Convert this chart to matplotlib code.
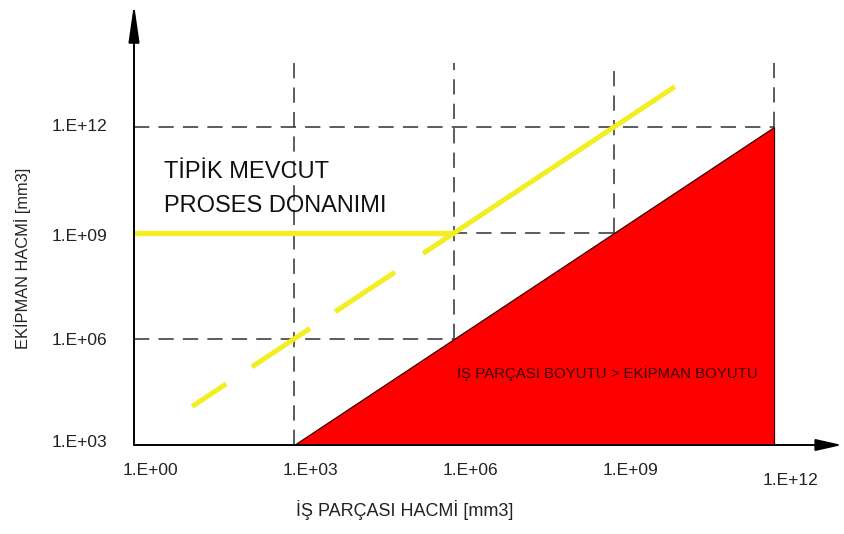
import numpy as np
import matplotlib
matplotlib.use("Agg")
import matplotlib.pyplot as plt
import matplotlib.transforms as mtransforms
from matplotlib.ticker import NullLocator

plt.rcParams['font.family'] = ['Liberation Sans', 'DejaVu Sans']

# decade exponents of the two axes
x_ticks = [0, 3, 6, 9, 12]
y_ticks = [3, 6, 9, 12]
x_tick_labels = ["1.E+00", "1.E+03", "1.E+06", "1.E+09", "1.E+12"]
y_tick_labels = ["1.E+03", "1.E+06", "1.E+09", "1.E+12"]

# workpiece > equipment region (log10 mm3)
region_x = [3, 12, 12]
region_y = [3, 3, 12]

# typical process equipment: flat at 1E+09 up to 1E+06, then equipment = 1000 x workpiece
flat_x = [0, 6]
flat_y = [9, 9]
diag_offset = 3
diag_dash_start = [1.09, 2.21, 3.77]
diag_dash_end = [1.73, 3.30, 4.89]
diag_solid = [5.42, 10.14]

# dashed reference lines: (x0, x1, y) horizontal and (x, y0, y1) vertical
grid_top = 13.8
h_grid = [(0, 12, 12), (0, 9, 9), (0, 6, 6)]
v_grid = [(3, 3, grid_top), (6, 6, grid_top), (9, 9, grid_top), (12, 12, grid_top)]

yellow = "#f2ee22"
grid_kw = dict(color="#303030", lw=1.1, linestyle=(0, (10, 6)), zorder=2)

fig = plt.figure(figsize=(8.44, 5.34), dpi=100)
W, H = 844, 534
ax = fig.add_axes([134 / W, 89 / H, (842 - 134) / W, (445 - 4) / H])
ax.set_xscale("log")
ax.set_yscale("log")
ax.set_xlim(1, 10 ** 13.275)
ax.set_ylim(1e3, 10 ** (3 + 441 / 106 * 3))

for x0, x1, y in h_grid:
    ax.plot([10 ** x0, 10 ** x1], [10 ** y, 10 ** y], **grid_kw)
for x, y0, y1 in v_grid:
    ax.plot([10 ** x, 10 ** x], [10 ** y0, 10 ** y1], **grid_kw)

ax.fill([10 ** v for v in region_x], [10 ** v for v in region_y],
        facecolor="#ff0000", edgecolor="#3a0000", lw=0.9, zorder=3)

ax.plot([10 ** v for v in flat_x], [10 ** v for v in flat_y],
        color=yellow, lw=3.8, solid_capstyle="butt", zorder=4)
for a, b in zip(diag_dash_start, diag_dash_end):
    ax.plot([10 ** a, 10 ** b], [10 ** (a + diag_offset), 10 ** (b + diag_offset)],
            color=yellow, lw=3.6, solid_capstyle="butt", zorder=4)
ax.plot([10 ** v for v in diag_solid], [10 ** (v + diag_offset) for v in diag_solid],
        color=yellow, lw=3.6, solid_capstyle="butt", zorder=4)

# axes drawn as arrows
for s in ax.spines.values():
    s.set_visible(False)
ax.annotate("", xy=(0, 1), xytext=(0, 0), xycoords="axes fraction",
            arrowprops=dict(arrowstyle="-|>,head_length=2.3,head_width=0.33",
                            color="black", lw=1.4, shrinkA=0, shrinkB=0), zorder=6)
ax.annotate("", xy=(1, 0), xytext=(0, 0), xycoords="axes fraction",
            arrowprops=dict(arrowstyle="-|>,head_length=1.6,head_width=0.36",
                            color="black", lw=1.4, shrinkA=0, shrinkB=0), zorder=6)

ax.xaxis.set_minor_locator(NullLocator())
ax.yaxis.set_minor_locator(NullLocator())
ax.set_xticks([10 ** v for v in x_ticks], x_tick_labels)
ax.set_yticks([10 ** v for v in y_ticks], y_tick_labels)
ax.tick_params(axis="both", length=0, labelsize=12.5, labelcolor="#222222")
ax.tick_params(axis="x", pad=13)
ax.tick_params(axis="y", pad=39)

for i, lab in enumerate(ax.get_xticklabels()):
    dy = -10 if i == len(x_ticks) - 1 else 0
    lab.set_transform(lab.get_transform() +
                      mtransforms.ScaledTranslation(16 / 100, dy / 100, fig.dpi_scale_trans))
y_shift = [4, 0, -2, 2]
for lab, dy in zip(ax.get_yticklabels(), y_shift):
    lab.set_horizontalalignment("center")
    lab.set_transform(lab.get_transform() +
                      mtransforms.ScaledTranslation(0, dy / 100, fig.dpi_scale_trans))

fig.text(23 / W, 1 - 258 / H, "EKİPMAN HACMİ [mm3]", rotation=90,
         ha="center", va="center", fontsize=11.8, color="#222222")
fig.text(405 / W, 1 - 510 / H, "İŞ PARÇASI HACMİ [mm3]",
         ha="center", va="center", fontsize=13, color="#222222")

fig.text(164 / W, 1 - 172 / H, "TİPİK MEVCUT", ha="left", va="center",
         fontsize=17, color="#111111")
fig.text(164 / W, 1 - 206 / H, "PROSES DONANIMI", ha="left", va="center",
         fontsize=17, color="#111111")

ax.text(10 ** 8.87, 10 ** 5.04, "İŞ PARÇASI BOYUTU > EKİPMAN BOYUTU",
        ha="center", va="center", fontsize=10.8, color="#3a0505", zorder=5)

fig.savefig("out.png", dpi=100, facecolor="white")
